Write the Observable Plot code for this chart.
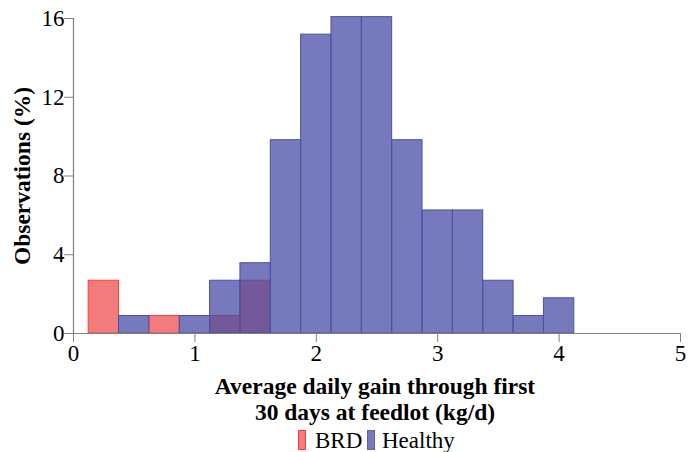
<!DOCTYPE html>
<html>
<head>
<meta charset="utf-8">
<script src="https://cdn.jsdelivr.net/npm/d3@7"></script>
<script src="https://cdn.jsdelivr.net/npm/@observablehq/plot@0.6"></script>
<style>
  html, body { margin: 0; padding: 0; background: white; }
  #wrap { position: relative; width: 699px; height: 452px; font-family: "Liberation Serif", serif; }
  #wrap svg { position: absolute; left: 0; top: 0; }
  .sw { position: absolute; top: 430px; width: 6px; height: 18px; box-sizing: content-box; }
  .lab { position: absolute; top: 428.7px; font-family: "Liberation Serif", serif; font-size: 23px; line-height: 23px; color: black; white-space: nowrap; }
</style>
</head>
<body>
<div id="wrap"></div>
<script>
// ---- data ----
const binStart = [0.125, 0.375, 0.625, 0.875, 1.125, 1.375, 1.625, 1.875, 2.125, 2.375, 2.625, 2.875, 3.125, 3.375, 3.625, 3.875];
const binWidth = 0.25;
const healthyPct = [0, 0.89, 0, 0.89, 2.68, 3.57, 9.82, 15.18, 16.07, 16.07, 9.82, 6.25, 6.25, 2.68, 0.89, 1.79];
const brdPct     = [2.68, 0, 0.89, 0, 0.89, 2.68, 0, 0, 0, 0, 0, 0, 0, 0, 0, 0];
const groups = ["BRD", "Healthy"];
const xTicks = [0, 1, 2, 3, 4, 5];
const yTicks = [0, 4, 8, 12, 16];
const xTitle = ["Average daily gain through first", "30 days at feedlot (kg/d)"];
const yTitle = "Observations (%)";

// ---- styles ----
const redFill = "#f27b7b", redStroke = "#ff3b3b";
const blueBase = "#484ca4", blueStroke = "#4a52a8";
const axisColor = "#808080";
const serif = "Liberation Serif";

const brdRows = binStart.map((s, i) => ({x1: s, x2: s + binWidth, pct: brdPct[i]})).filter(d => d.pct > 0);
const healthyRows = binStart.map((s, i) => ({x1: s, x2: s + binWidth, pct: healthyPct[i]})).filter(d => d.pct > 0);

const chart = Plot.plot({
  width: 699,
  height: 452,
  marginLeft: 73,
  marginRight: 19,
  marginTop: 18,
  marginBottom: 119,
  style: {fontFamily: serif, fontSize: "23px", color: "black", background: "white", overflow: "visible"},
  x: {domain: [0, 5]},
  y: {domain: [0, 16]},
  marks: [
    Plot.rectY(brdRows, {x1: "x1", x2: "x2", y: "pct", fill: redFill, stroke: redStroke, strokeWidth: 1}),
    Plot.rectY(healthyRows, {x1: "x1", x2: "x2", y: "pct", fill: blueBase, fillOpacity: 0.75, stroke: blueStroke, strokeWidth: 1}),
    Plot.ruleY([0], {stroke: axisColor, strokeWidth: 1.2}),
    Plot.ruleX([0], {stroke: axisColor, strokeWidth: 1.2}),
    Plot.axisX({ticks: xTicks, tickFormat: d => String(d), tickSize: 9, tickPadding: 2, stroke: axisColor, fill: "black", fontFamily: serif, label: null}),
    Plot.axisY({ticks: yTicks, tickFormat: d => String(d), tickSize: 9, tickPadding: 0, stroke: axisColor, fill: "black", fontFamily: serif, label: null}),
    Plot.text([yTitle], {frameAnchor: "left", textAnchor: "middle", rotate: -90, dx: -51, fontFamily: serif, fontWeight: "bold", fontSize: 23.5, fill: "black"}),
    Plot.text([xTitle[0]], {frameAnchor: "bottom", lineAnchor: "bottom", dy: 60, dx: -2, fontFamily: serif, fontWeight: "bold", fontSize: 23.5, fill: "black"}),
    Plot.text([xTitle[1]], {frameAnchor: "bottom", lineAnchor: "bottom", dy: 86, dx: -2, fontFamily: serif, fontWeight: "bold", fontSize: 23.5, fill: "black"})
  ]
});

const wrap = document.getElementById("wrap");
wrap.appendChild(chart);

// legend (below the plot area)
const legendItems = [
  {label: groups[0], fill: redFill, stroke: redStroke, swLeft: 298, labLeft: 315},
  {label: groups[1], fill: "#7679bb", stroke: "#5a60ae", swLeft: 367, labLeft: 382}
];
legendItems.forEach(it => {
  const sw = document.createElement("div");
  sw.className = "sw";
  sw.style.left = it.swLeft + "px";
  sw.style.background = it.fill;
  sw.style.border = "1px solid " + it.stroke;
  wrap.appendChild(sw);
  const lab = document.createElement("div");
  lab.className = "lab";
  lab.style.left = it.labLeft + "px";
  lab.textContent = it.label;
  wrap.appendChild(lab);
});
</script>
</body>
</html>
